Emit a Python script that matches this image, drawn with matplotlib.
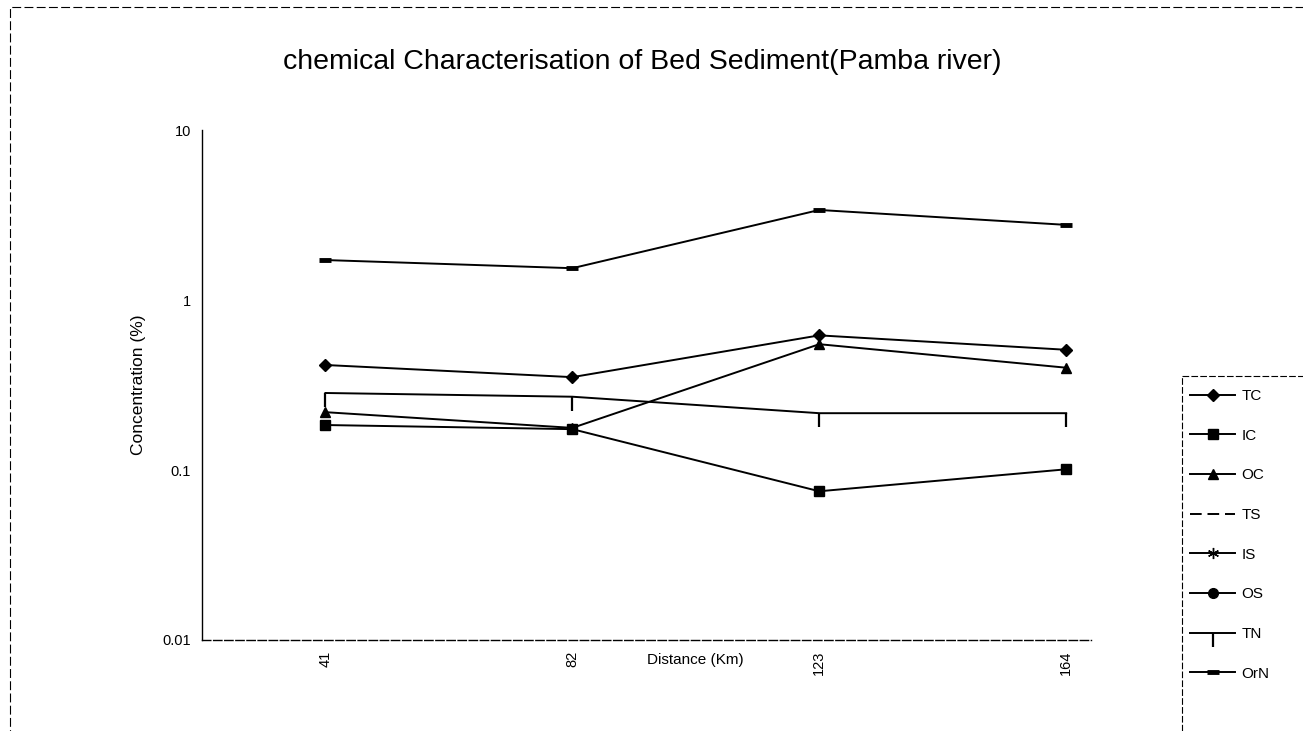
import matplotlib
matplotlib.use("Agg")
import matplotlib.pyplot as plt
from matplotlib.patches import Rectangle
from matplotlib.lines import Line2D
import numpy as np

nan = np.nan

# distance along the river (km)
distance = ["41", "82", "123", "164"]

# concentration (%)
tc = [0.415, 0.352, 0.62, 0.51]
ic = [0.184, 0.174, 0.075, 0.101]
oc = [0.219, 0.177, 0.55, 0.40]
ts = [nan, nan, nan, nan]
is_ = [nan, nan, nan, nan]
os_ = [nan, nan, nan, nan]
tn = [0.284, 0.27, 0.216, 0.216]
orn = [1.72, 1.54, 3.39, 2.77]

plt.rcParams['font.family'] = ['Liberation Sans', 'DejaVu Sans']

fig = plt.figure(figsize=(13.03, 7.31), dpi=100)
ax = fig.add_axes([0.155, 0.1245, 0.758, 0.6975])

x = np.arange(1, len(distance) + 1)
lw = 1.4
ax.plot(x, tc, color='black', lw=lw, marker='D', ms=6.5, label='TC')
ax.plot(x, ic, color='black', lw=lw, marker='s', ms=6.5, label='IC')
ax.plot(x, oc, color='black', lw=lw, marker='^', ms=7, label='OC')
ax.plot(x, ts, color='black', lw=lw, ls=(0, (6, 3)), label='TS')
ax.plot(x, is_, color='black', lw=lw, marker=(6, 2, 0), ms=8, label='IS')
ax.plot(x, os_, color='black', lw=lw, marker='o', ms=7, label='OS')
ax.plot(x, tn, color='black', lw=lw, marker=3, ms=10, mew=1.6, label='TN')
ax.plot(x, orn, color='black', lw=lw, marker='_', ms=9, mew=3.5, label='OrN')

ax.set_yscale('log')
ax.set_ylim(0.01, 10)
ax.set_xlim(0.5, 4.5)
ax.set_yticks([0.01, 0.1, 1, 10])
ax.set_yticklabels(['0.01', '0.1', '1', '10'], fontsize=10.5)
ax.yaxis.set_minor_locator(matplotlib.ticker.NullLocator())
ax.set_xticks(x)
ax.set_xticklabels(distance, rotation=90, fontsize=10.5)
ax.tick_params(length=0, pad=8)

for side in ['top', 'right']:
    ax.spines[side].set_visible(False)
ax.spines['left'].set_linestyle((0, (8, 1)))
ax.spines['left'].set_linewidth(1.0)
ax.spines['bottom'].set_linestyle((0, (6, 2)))
ax.spines['bottom'].set_linewidth(1.0)
ax.spines['bottom'].set_bounds(0.5, 4.1)

ax.set_ylabel('Concentration (%)', fontsize=12.5, labelpad=12)
ax.set_xlabel('Distance (Km)', fontsize=11, labelpad=-16)

fig.text(0.493, 0.915, 'chemical Characterisation of Bed Sediment(Pamba river)',
         fontsize=20.5, ha='center', va='center')

leg = fig.legend(loc='upper left', bbox_to_anchor=(1190 / 1303, (731 - 389) / 731),
                 frameon=False, fontsize=11,
                 labelspacing=1.68, handlelength=2.95, handletextpad=0.4,
                 borderpad=0, borderaxespad=0)

# legend box: only its left and top edges fall inside the picture
fig.lines.append(Line2D([1182 / 1303, 1182 / 1303], [0, (731 - 376) / 731],
                        transform=fig.transFigure, color='black', lw=0.8, ls=(0, (6, 2))))
fig.lines.append(Line2D([1182 / 1303, 1.0], [(731 - 376) / 731] * 2,
                        transform=fig.transFigure, color='black', lw=0.8, ls=(0, (6, 2))))

# scanned page border
fig.patches.append(Rectangle((0.008, -0.05), 1.2, 1.04, transform=fig.transFigure,
                             fill=False, ec='black', lw=0.8, ls=(0, (8, 3))))

fig.savefig('out.png', dpi=100)
